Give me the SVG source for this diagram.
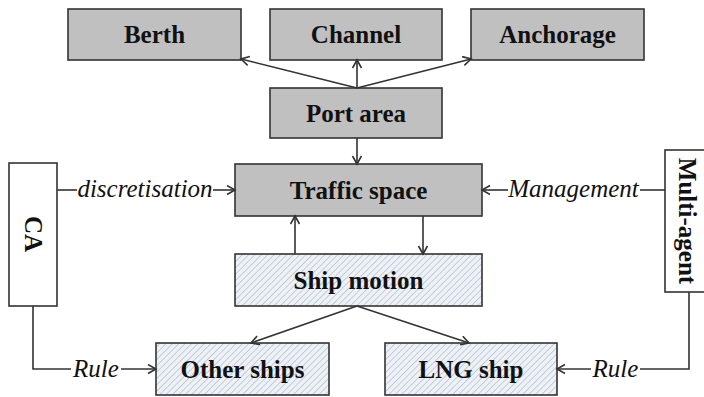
<svg xmlns="http://www.w3.org/2000/svg" width="704" height="397" viewBox="0 0 704 397">
<style>
.box{stroke:#333;stroke-width:1.6}
.gray{fill:#c0c0c0}
.hatch{fill:url(#hatch)}
.white{fill:#fff}
.lbl{font-family:"Liberation Serif","Times New Roman",serif;font-weight:bold;font-size:25px;fill:#111;text-anchor:middle}
.it{font-family:"Liberation Serif","Times New Roman",serif;font-style:italic;font-size:25px;fill:#111;text-anchor:middle}
.con{fill:none;stroke:#333;stroke-width:1.6}
</style>
<defs>
<pattern id="hatch" patternUnits="userSpaceOnUse" width="4.5" height="4.5" patternTransform="rotate(45)">
<rect width="4.5" height="4.5" fill="#eef2f7"/>
<line x1="0" y1="0" x2="0" y2="4.5" stroke="#a9b5c6" stroke-width="1.2"/>
</pattern>
<marker id="arr" markerUnits="userSpaceOnUse" markerWidth="12" markerHeight="12" refX="9" refY="5" orient="auto">
<path d="M1,0.5 L9,5 L1,9.5" fill="none" stroke="#333" stroke-width="1.6"/>
</marker>
</defs>
<g id="berth"><rect class="box gray" x="68" y="9" width="173" height="51"/><text class="lbl" x="154.5" y="43">Berth</text></g>
<g id="channel"><rect class="box gray" x="270" y="9" width="172" height="51"/><text class="lbl" x="356" y="43">Channel</text></g>
<g id="anchorage"><rect class="box gray" x="471" y="9" width="173" height="51"/><text class="lbl" x="557.5" y="43">Anchorage</text></g>
<g id="port-area"><rect class="box gray" x="270" y="88" width="172" height="50"/><text class="lbl" x="356" y="121.5">Port area</text></g>
<g id="traffic-space"><rect class="box gray" x="235" y="164" width="247" height="52"/><text class="lbl" x="358.5" y="198.5">Traffic space</text></g>
<g id="ship-motion"><rect class="box hatch" x="235" y="254" width="247" height="52"/><text class="lbl" x="358.5" y="288.5">Ship motion</text></g>
<g id="other-ships"><rect class="box hatch" x="156" y="343" width="173" height="52"/><text class="lbl" x="242.5" y="377.5">Other ships</text></g>
<g id="lng-ship"><rect class="box hatch" x="385" y="343" width="172" height="52"/><text class="lbl" x="471" y="377.5">LNG ship</text></g>
<g id="ca"><rect class="box white" x="9" y="163" width="48" height="143"/><text class="lbl" transform="translate(33,234) rotate(90)" x="0" y="8.5">CA</text></g>
<g id="multi-agent"><rect class="box white" x="665" y="150" width="46" height="142"/><text class="lbl" transform="translate(687,221) rotate(90)" x="0" y="8.5">Multi-agent</text></g>
<g id="connectors">
<path class="con" d="M357,88 L241,59" marker-end="url(#arr)"/>
<path class="con" d="M357,88 L357,60" marker-end="url(#arr)"/>
<path class="con" d="M357,88 L471,59" marker-end="url(#arr)"/>
<path class="con" d="M357,138 L357,164" marker-end="url(#arr)"/>
<path class="con" d="M295,254 L295,216" marker-end="url(#arr)"/>
<path class="con" d="M423,216 L423,254" marker-end="url(#arr)"/>
<path class="con" d="M357,306 L251,343" marker-end="url(#arr)"/>
<path class="con" d="M357,306 L469,343" marker-end="url(#arr)"/>
<path class="con" d="M57,190 L77,190"/>
<path class="con" d="M213,190 L235,190" marker-end="url(#arr)"/>
<text class="it" x="145" y="197">discretisation</text>
<path class="con" d="M665,190 L640,190"/>
<path class="con" d="M508,190 L482,190" marker-end="url(#arr)"/>
<text class="it" x="573.5" y="197">Management</text>
<path class="con" d="M33,306 L33,369 L71,369"/>
<path class="con" d="M121,369 L156,369" marker-end="url(#arr)"/>
<text class="it" x="96" y="377">Rule</text>
<path class="con" d="M689,292 L689,369 L640,369"/>
<path class="con" d="M591,369 L557,369" marker-end="url(#arr)"/>
<text class="it" x="615.5" y="377">Rule</text>
</g>
</svg>
